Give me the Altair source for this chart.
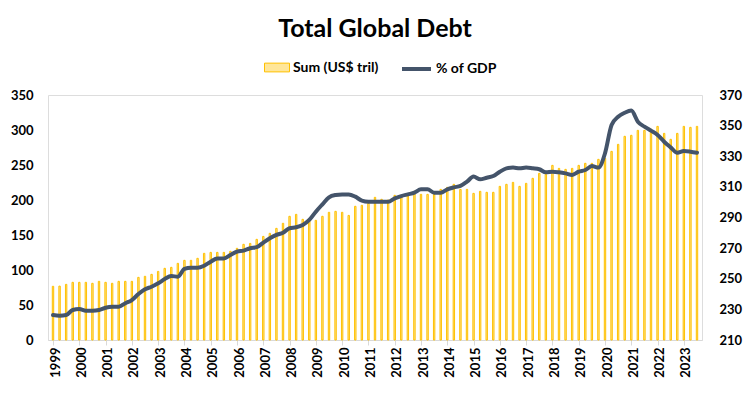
import altair as alt
import pandas as pd

years = list(range(1999, 2024))

debt = [
    76.7, 77.0, 79.5, 82.4,
    82.4, 82.4, 81.0, 83.8,
    82.4, 81.0, 83.8, 83.8,
    83.8, 89.5, 91.0, 93.8,
    98.0, 102.4, 103.8, 109.5,
    113.8, 113.8, 116.7, 123.8,
    125.2, 125.2, 125.2, 126.7,
    131.0, 136.7, 138.0, 143.8,
    148.0, 152.4, 159.5, 166.7,
    176.7, 179.5, 172.4, 169.5,
    171.0, 176.7, 182.4, 183.8,
    182.4, 178.0, 191.0, 192.4,
    195.2, 203.8, 201.0, 200.0,
    206.7, 205.2, 206.7, 212.4,
    208.1, 208.1, 208.1, 215.2,
    218.1, 222.4, 215.2, 215.2,
    209.5, 212.4, 211.0, 211.0,
    219.5, 222.4, 225.2, 219.5,
    223.8, 231.0, 238.1, 236.7,
    249.5, 245.2, 243.8, 245.2,
    249.5, 252.4, 252.4, 258.1,
    259.5, 269.5, 279.5, 291.0,
    292.4, 299.5, 299.5, 301.0,
    305.2, 295.2, 286.7, 295.2,
    305.2, 303.8, 305.2,
]

pct_gdp = [
    226.3, 225.9, 226.3, 229.6,
    230.2, 229.1, 229.1, 229.6,
    231.1, 231.7, 231.7, 234.0,
    236.1, 240.0, 243.1, 244.8,
    247.0, 249.8, 251.8, 251.3,
    256.4, 257.2, 257.2, 258.5,
    261.1, 263.3, 263.3, 265.5,
    267.7, 268.4, 269.9, 270.6,
    273.6, 276.4, 278.6, 280.1,
    283.0, 283.6, 285.1, 288.4,
    293.8, 298.6, 303.2, 304.7,
    305.1, 305.1, 303.6, 301.0,
    300.3, 300.3, 300.3, 300.3,
    302.5, 304.0, 305.1, 306.2,
    308.4, 308.4, 306.2, 306.2,
    308.4, 309.7, 310.6, 313.4,
    316.7, 315.0, 316.0, 317.1,
    319.9, 322.1, 322.6, 322.1,
    322.6, 322.1, 321.5, 319.5,
    319.9, 319.5, 318.8, 317.8,
    319.9, 321.0, 323.6, 322.6,
    331.9, 350.4, 355.8, 358.4,
    359.8, 352.6, 349.3, 346.7,
    343.9, 339.5, 335.8, 332.3,
    333.4, 333.0, 332.3,
]

series_names = ["Sum (US$ tril)", "% of GDP"]
left_ticks = [0, 50, 100, 150, 200, 250, 300, 350]
right_ticks = [210, 230, 250, 270, 290, 310, 330, 350, 370]

df = pd.DataFrame({
    "q": list(range(len(debt))),
    "debt": debt,
    "pct": pct_gdp,
    "s_bar": series_names[0],
    "s_line": series_names[1],
})

FONT = "Lato"
year_arr = "[" + ",".join(str(y) for y in years) + "]"

x_enc = alt.X(
    "q:Q",
    scale=alt.Scale(domain=[0, len(debt) - 1], nice=False, zero=False),
    axis=alt.Axis(
        values=[i * 4 for i in range(len(years))],
        labelExpr=f"{year_arr}[round(datum.value / 4)]",
        labelAngle=-90,
        labelOverlap=False,
        labelBound=False,
        labelFont=FONT,
        labelFontSize=13,
        labelFontWeight="bold",
        labelColor="black",
        labelPadding=2,
        labelOffset=2,
        tickSize=5,
        tickColor="#D9D9D9",
        domainColor="#D9D9D9",
        grid=False,
        title=None,
    ),
)

legend_common = dict(
    title=None,
    orient="none",
    labelFont=FONT,
    labelFontSize=14,
    labelFontWeight="bold",
    labelColor="black",
    labelOffset=3,
    padding=0,
)

bars = alt.Chart(df).mark_bar(
    width=1.4, stroke="#FFC000", strokeWidth=1
).encode(
    x=x_enc,
    y=alt.Y(
        "debt:Q",
        scale=alt.Scale(domain=[0, 350], nice=False),
        axis=alt.Axis(
            values=left_ticks,
            labelFont=FONT,
            labelFontSize=13,
            labelFontWeight="bold",
            labelColor="black",
            labelPadding=15,
            ticks=False,
            domain=False,
            grid=False,
            title=None,
        ),
    ),
    fill=alt.Fill(
        "s_bar:N",
        scale=alt.Scale(domain=[series_names[0]], range=["#FFE699"]),
        legend=alt.Legend(
            legendX=216,
            legendY=-40.5,
            symbolType="M-1,-0.35H1V0.35H-1Z",
            symbolSize=625,
            symbolStrokeColor="#FFC000",
            symbolStrokeWidth=1,
            **legend_common,
        ),
    ),
)

line = alt.Chart(df).mark_line(
    strokeWidth=4, strokeCap="round", strokeJoin="round", interpolate="monotone"
).encode(
    x=x_enc,
    y=alt.Y(
        "pct:Q",
        scale=alt.Scale(domain=[210, 370], nice=False, zero=False),
        axis=alt.Axis(
            orient="right",
            values=right_ticks,
            labelFont=FONT,
            labelFontSize=13,
            labelFontWeight="bold",
            labelColor="black",
            labelPadding=17,
            ticks=False,
            domain=False,
            grid=False,
            title=None,
        ),
    ),
    stroke=alt.Stroke(
        "s_line:N",
        scale=alt.Scale(domain=[series_names[1]], range=["#44546A"]),
        legend=alt.Legend(
            legendX=352,
            legendY=-42.5,
            symbolType="stroke",
            symbolSize=841,
            symbolStrokeWidth=4,
            **legend_common,
        ),
    ),
)

chart = alt.layer(bars, line).resolve_scale(
    y="independent", fill="independent", stroke="independent"
).properties(
    width=654,
    height=245,
    padding={"left": 40, "top": 87, "right": 41, "bottom": 45},
    autosize=alt.AutoSizeParams(type="none"),
    title=alt.TitleParams(
        "Total Global Debt",
        font=FONT,
        fontSize=25,
        fontWeight="bold",
        color="black",
        anchor="middle",
        offset=11,
    ),
).configure_view(stroke=None).configure(background="white")

chart.save("out.html", embed_options={"renderer": "svg", "actions": False})
